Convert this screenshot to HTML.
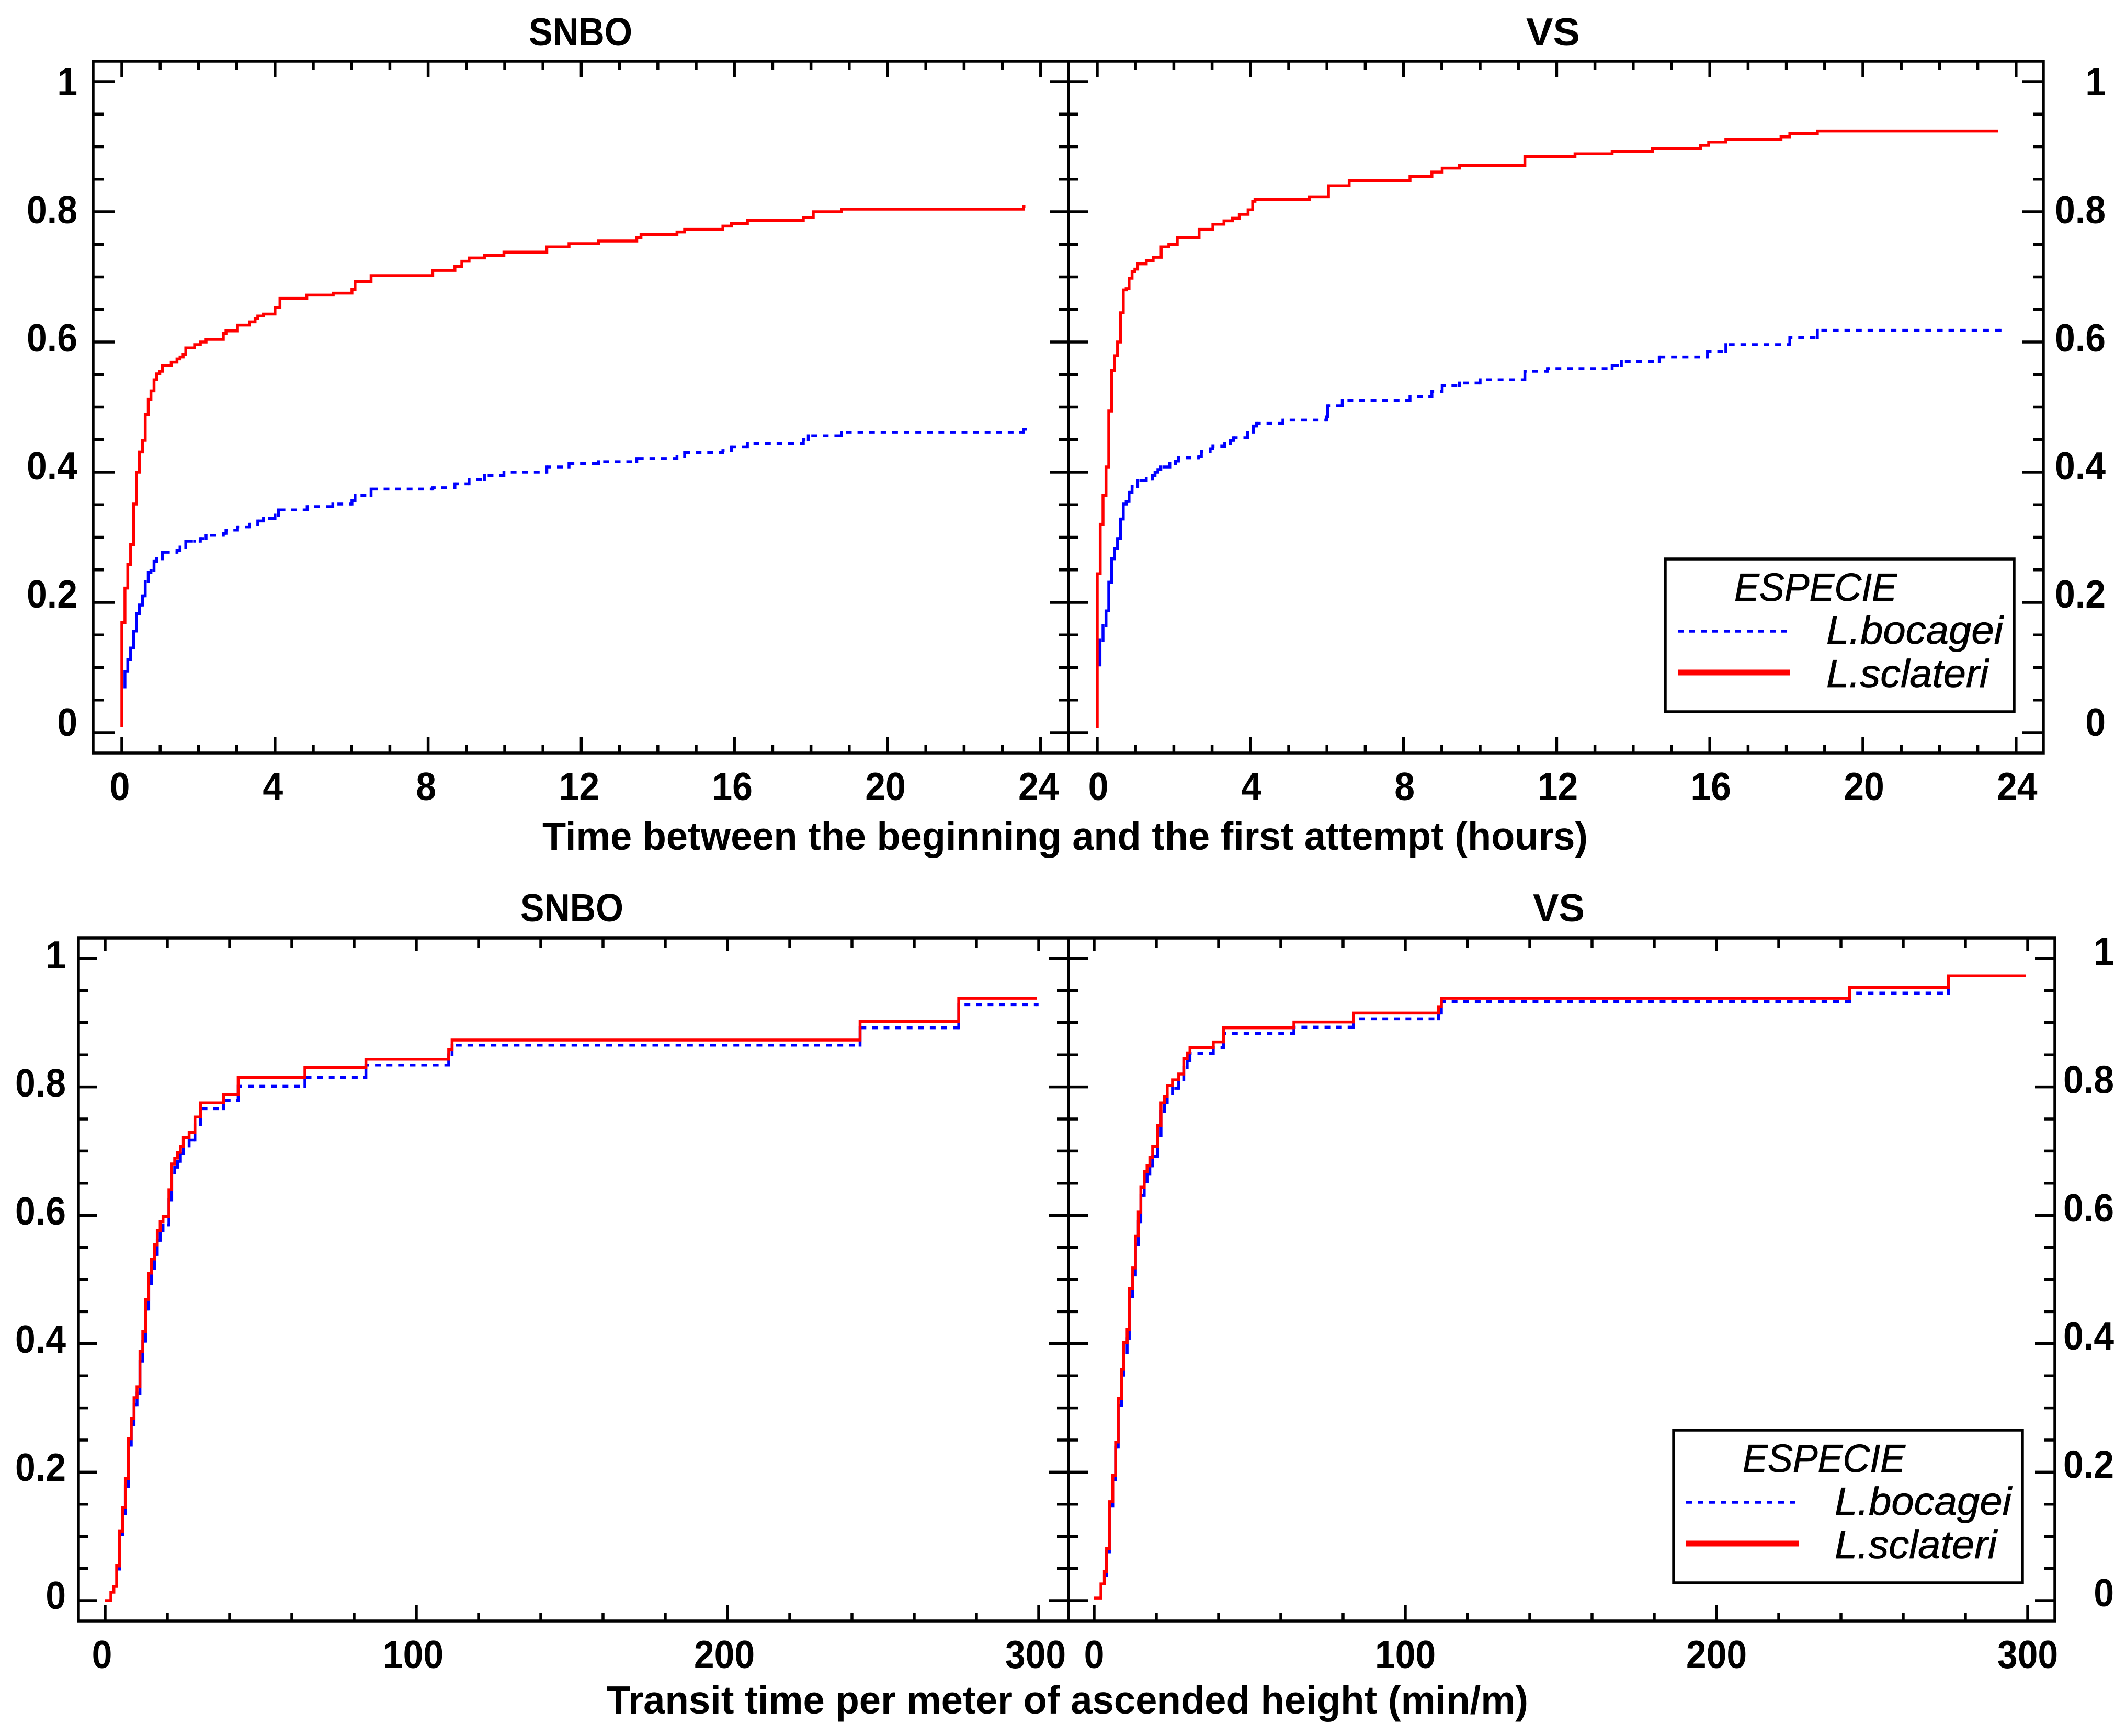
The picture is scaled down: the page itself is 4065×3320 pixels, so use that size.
<!DOCTYPE html>
<html lang="en">
<head>
<meta charset="utf-8">
<title>Cumulative curves by species</title>
<style>
html,body{margin:0;padding:0;background:#fff;}
svg{display:block;}
text{font-family:"Liberation Sans",Arial,sans-serif;fill:#000;}
.b{font-weight:bold;font-size:75px;}
.i{font-style:italic;font-size:75px;stroke:#000;stroke-width:0.8px;}
</style>
</head>
<body>
<svg id="chart" xmlns="http://www.w3.org/2000/svg" width="4065" height="3320" viewBox="0 0 4065 3320">
<rect x="0" y="0" width="4065" height="3320" fill="#fff"/>
<g id="marks"></g>

<rect x="178" y="117" width="3729" height="1323" fill="none" stroke="#000" stroke-width="5.5"/>
<line x1="2043" y1="117" x2="2043" y2="1440" stroke="#000" stroke-width="5.5"/>
<rect x="150" y="1794" width="3779" height="1306" fill="none" stroke="#000" stroke-width="5.5"/>
<line x1="2043" y1="1794" x2="2043" y2="3100" stroke="#000" stroke-width="5.5"/>

<text class="b" x="1011" y="87" textLength="198" lengthAdjust="spacingAndGlyphs">SNBO</text>
<text class="b" x="2918" y="87" textLength="103" lengthAdjust="spacingAndGlyphs">VS</text>
<text class="b" x="995" y="1762" textLength="197" lengthAdjust="spacingAndGlyphs">SNBO</text>
<text class="b" x="2931" y="1762" textLength="99" lengthAdjust="spacingAndGlyphs">VS</text>
<text class="b" x="1037" y="1625" textLength="1999" lengthAdjust="spacingAndGlyphs">Time between the beginning and the first attempt (hours)</text>
<text class="b" x="1160" y="3277" textLength="1762" lengthAdjust="spacingAndGlyphs">Transit time per meter of ascended height (min/m)</text>

<g>
<rect x="3184" y="1069" width="667" height="292" fill="#fff" stroke="#000" stroke-width="5.5"/>
<text class="i" x="3316" y="1149" textLength="311" lengthAdjust="spacingAndGlyphs">ESPECIE</text>
<line x1="3208" y1="1207" x2="3418" y2="1207" stroke="#0000ff" stroke-width="5.5" stroke-dasharray="11 11"/>
<text class="i" x="3492" y="1231" textLength="338" lengthAdjust="spacingAndGlyphs">L.bocagei</text>
<line x1="3208" y1="1286" x2="3423" y2="1286" stroke="#ff0000" stroke-width="11"/>
<text class="i" x="3492" y="1314" textLength="310" lengthAdjust="spacingAndGlyphs">L.sclateri</text>
</g>
<g>
<rect x="3200" y="2735" width="667" height="292" fill="#fff" stroke="#000" stroke-width="5.5"/>
<text class="i" x="3332" y="2815" textLength="311" lengthAdjust="spacingAndGlyphs">ESPECIE</text>
<line x1="3224" y1="2873" x2="3434" y2="2873" stroke="#0000ff" stroke-width="5.5" stroke-dasharray="11 11"/>
<text class="i" x="3508" y="2897" textLength="338" lengthAdjust="spacingAndGlyphs">L.bocagei</text>
<line x1="3224" y1="2952" x2="3439" y2="2952" stroke="#ff0000" stroke-width="11"/>
<text class="i" x="3508" y="2980" textLength="310" lengthAdjust="spacingAndGlyphs">L.sclateri</text>
</g>
</svg>
<script>
// ---------- tick labels ----------
var yTickLabels = ["0","0.2","0.4","0.6","0.8","1"];
var hourTickLabels = ["0","4","8","12","16","20","24"];
var transitTickLabels = ["0","100","200","300"];
var yMinorStep = 0.05;
var hourMinorStep = 1;
var transitMinorStep = 20;

// ---------- Top left: SNBO, hours ----------
var snboHoursSclateriX = [0,0,0.08,0.155,0.23,0.305,0.38,0.46,0.54,0.61,0.69,0.76,0.84,0.91,0.99,1.06,1.29,1.44,1.52,1.6,1.67,1.9,2.05,2.2,2.65,2.72,3.02,3.33,3.48,3.55,3.7,4.0,4.13,4.83,5.52,6.01,6.09,6.51,8.12,8.7,8.88,9.07,9.47,9.98,11.1,11.68,12.45,13.45,13.56,14.5,14.7,15.7,15.92,16.34,17.8,18.06,18.8,23.55,23.6];
var snboHoursSclateriY = [0.008,0.169,0.222,0.258,0.289,0.351,0.4,0.431,0.449,0.489,0.512,0.525,0.542,0.551,0.555,0.564,0.569,0.574,0.577,0.581,0.591,0.596,0.6,0.604,0.613,0.617,0.626,0.631,0.636,0.64,0.643,0.653,0.667,0.672,0.675,0.681,0.693,0.702,0.71,0.716,0.724,0.729,0.733,0.738,0.746,0.751,0.755,0.76,0.765,0.769,0.773,0.778,0.782,0.787,0.791,0.8,0.804,0.808,0.808];
var snboHoursBocageiX = [0.08,0.08,0.155,0.23,0.305,0.38,0.46,0.54,0.61,0.69,0.76,0.84,0.91,1.06,1.44,1.52,1.67,1.9,2.05,2.2,2.65,2.72,3.02,3.33,3.55,3.7,4.0,4.09,4.84,5.51,6.01,6.09,6.51,8.12,8.7,9.07,9.47,9.98,11.1,11.68,12.45,13.45,14.5,14.7,15.7,15.92,16.34,17.8,17.93,18.8,23.55,23.6];
var snboHoursBocageiY = [0.07,0.094,0.112,0.13,0.156,0.183,0.196,0.21,0.232,0.246,0.249,0.263,0.267,0.277,0.28,0.285,0.294,0.294,0.298,0.303,0.306,0.311,0.316,0.32,0.325,0.329,0.334,0.342,0.347,0.351,0.356,0.364,0.374,0.376,0.382,0.389,0.395,0.4,0.408,0.413,0.416,0.421,0.424,0.43,0.433,0.439,0.444,0.45,0.456,0.461,0.466,0.466];

// ---------- Top right: VS, hours ----------
var vsHoursSclateriX = [0,0,0.078,0.15,0.228,0.3,0.378,0.45,0.53,0.606,0.68,0.756,0.83,0.91,0.984,1.056,1.28,1.46,1.67,1.87,2.09,2.66,3.02,3.31,3.53,3.71,3.94,4.06,4.12,5.54,6.04,6.58,8.17,8.74,9.01,9.46,11.17,12.48,13.45,14.5,15.76,15.97,16.42,17.86,18.09,18.81,23.53];
var vsHoursSclateriY = [0.007,0.244,0.32,0.364,0.408,0.494,0.556,0.579,0.6,0.645,0.68,0.682,0.698,0.708,0.712,0.72,0.725,0.73,0.746,0.75,0.76,0.773,0.781,0.786,0.79,0.796,0.803,0.816,0.819,0.823,0.84,0.848,0.854,0.861,0.867,0.871,0.885,0.889,0.893,0.897,0.902,0.907,0.911,0.915,0.92,0.924,0.924];
var vsHoursBocageiX = [0.073,0.073,0.15,0.228,0.3,0.378,0.45,0.53,0.606,0.68,0.756,0.83,0.91,1.056,1.28,1.44,1.51,1.585,1.66,1.895,2.04,2.12,2.65,2.72,2.95,3.02,3.33,3.48,3.56,3.93,4.08,4.16,4.85,5.99,6.02,6.4,8.17,8.74,9.01,9.46,10.0,11.17,11.76,13.45,13.69,14.68,15.94,16.42,18.09,18.81,23.58];
var vsHoursBocageiY = [0.104,0.142,0.164,0.187,0.231,0.267,0.283,0.298,0.328,0.351,0.355,0.369,0.378,0.387,0.39,0.395,0.4,0.404,0.408,0.413,0.417,0.422,0.424,0.432,0.436,0.44,0.444,0.449,0.453,0.461,0.471,0.475,0.48,0.485,0.502,0.51,0.516,0.524,0.533,0.537,0.542,0.555,0.559,0.564,0.57,0.577,0.585,0.596,0.607,0.618,0.618];

// ---------- Bottom left: SNBO, transit ----------
var snboTransitSclateriX = [0,1.85,2.8,3.7,4.65,5.6,6.5,7.45,8.4,9.3,10.25,11.2,12.1,13.05,14,14.9,15.85,16.75,17.7,18.6,20.5,21.4,22.35,23.3,24.2,25.15,27,28.85,30.7,38.1,42.75,64.2,83.8,110.4,111.5,242.6,274.3,299.5];
var snboTransitSclateriY = [0,0.013,0.022,0.054,0.108,0.145,0.19,0.252,0.284,0.316,0.333,0.388,0.419,0.469,0.51,0.532,0.554,0.576,0.59,0.598,0.64,0.68,0.689,0.698,0.707,0.721,0.729,0.753,0.775,0.788,0.815,0.83,0.843,0.858,0.873,0.902,0.938,0.938];
var snboTransitBocageiX = [3.7,4.65,5.6,6.5,7.45,8.4,9.3,10.25,11.2,12.1,13.05,14,14.9,15.85,16.75,17.7,18.6,20.5,21.4,22.35,23.3,24.2,25.15,27,28.85,30.7,38.1,42.75,64.2,83.8,110.4,111.5,242.6,274.3,299.5];
var snboTransitBocageiY = [0.049,0.103,0.135,0.178,0.242,0.274,0.305,0.323,0.373,0.404,0.454,0.494,0.517,0.539,0.561,0.576,0.585,0.624,0.666,0.675,0.684,0.696,0.708,0.717,0.741,0.766,0.779,0.801,0.815,0.834,0.85,0.865,0.892,0.928,0.928];

// ---------- Bottom right: VS, transit ----------
var vsTransitSclateriX = [0,2.2,3.3,4,4.9,6,6.9,7.75,8.85,9.5,10.6,11.3,12.4,13.3,14.2,15,16.1,17,17.9,18.8,20.4,21.5,22.6,23.5,25.2,27.2,28.8,29.9,30.8,38.3,41.6,64.2,83.4,110.7,111.6,242.8,274.5,299.5];
var vsTransitSclateriY = [0.004,0.026,0.045,0.081,0.154,0.195,0.247,0.315,0.36,0.402,0.422,0.486,0.518,0.568,0.605,0.644,0.668,0.677,0.69,0.707,0.74,0.775,0.785,0.802,0.811,0.82,0.844,0.853,0.861,0.87,0.892,0.901,0.915,0.925,0.938,0.955,0.973,0.973];
var vsTransitBocageiX = [3.3,4,4.9,6,6.9,7.75,8.85,9.5,10.6,11.3,12.4,13.3,14.2,15,16.1,17,17.9,18.8,20.4,21.5,22.6,23.5,25.2,27.2,28.8,29.9,30.8,38.3,41.6,64.2,83.4,110.7,111.6,242.8,274.5];
var vsTransitBocageiY = [0.039,0.076,0.147,0.188,0.239,0.304,0.351,0.386,0.408,0.473,0.507,0.555,0.59,0.631,0.652,0.664,0.677,0.692,0.724,0.762,0.775,0.789,0.798,0.811,0.83,0.841,0.852,0.861,0.883,0.893,0.906,0.915,0.933,0.946,0.973];

var NS = "http://www.w3.org/2000/svg";
var marks = document.getElementById("marks");
var DASH_PERIOD = 22.1;
var DASH_ON = 11;

function xScale(panel, v) { return panel.x0 + panel.xk * v; }
function yScale(panel, v) { return panel.y0 - panel.yk * v; }

function addLine(x1, y1, x2, y2, name) {
  var el = document.createElementNS(NS, "line");
  el.setAttribute("x1", x1);
  el.setAttribute("y1", y1);
  el.setAttribute("x2", x2);
  el.setAttribute("y2", y2);
  el.setAttribute("stroke", "#000");
  el.setAttribute("stroke-width", "5.5");
  
  
  marks.appendChild(el);
}

function addText(str, x, y, anchor, name) {
  var el = document.createElementNS(NS, "text");
  el.textContent = str;
  el.setAttribute("class", "b");
  el.setAttribute("x", x);
  el.setAttribute("y", y);
  el.setAttribute("text-anchor", anchor);
  var w = 0;
  for (var i = 0; i < str.length; i++) { w += str.charAt(i) === "." ? 0.278 : 0.556; }
  el.setAttribute("textLength", (w * 75 * 0.93).toFixed(1));
  el.setAttribute("lengthAdjust", "spacingAndGlyphs");
  
  
  marks.appendChild(el);
}

function addSolidStep(panel, xs, ys, color, name) {
  var d = "M" + xScale(panel, xs[0]).toFixed(1) + " " + yScale(panel, ys[0]).toFixed(1);
  for (var i = 1; i < xs.length; i++) {
    d += "H" + xScale(panel, xs[i]).toFixed(1) + "V" + yScale(panel, ys[i]).toFixed(1);
  }
  var el = document.createElementNS(NS, "path");
  el.setAttribute("d", d);
  el.setAttribute("fill", "none");
  el.setAttribute("stroke", color);
  el.setAttribute("stroke-width", "5.5");
  el.setAttribute("stroke-linejoin", "miter");
  
  
  marks.appendChild(el);
}

// Risers are solid; horizontal runs are dashed on a fixed x-phase, as the source plot does.
function addDashedStep(panel, xs, ys, color, name) {
  var risers = "";
  var runs = "";
  for (var i = 1; i < xs.length; i++) {
    var xa = xScale(panel, xs[i - 1]);
    var xb = xScale(panel, xs[i]);
    var ya = yScale(panel, ys[i - 1]);
    var yb = yScale(panel, ys[i]);
    risers += "M" + xb.toFixed(1) + " " + ya.toFixed(1) + "V" + yb.toFixed(1);
    var k = Math.floor((xa - panel.dashPhase) / DASH_PERIOD);
    for (; panel.dashPhase + k * DASH_PERIOD < xb; k++) {
      var s = Math.max(xa, panel.dashPhase + k * DASH_PERIOD);
      var e = Math.min(xb, panel.dashPhase + k * DASH_PERIOD + DASH_ON);
      if (e > s) { runs += "M" + s.toFixed(1) + " " + ya.toFixed(1) + "H" + e.toFixed(1); }
    }
  }
  var r = document.createElementNS(NS, "path");
  r.setAttribute("d", risers);
  r.setAttribute("fill", "none");
  r.setAttribute("stroke", color);
  r.setAttribute("stroke-width", "5.5");
  r.setAttribute("stroke-linecap", "square");
  
  
  marks.appendChild(r);
  var h = document.createElementNS(NS, "path");
  h.setAttribute("d", runs);
  h.setAttribute("fill", "none");
  h.setAttribute("stroke", color);
  h.setAttribute("stroke-width", "5.5");
  
  
  marks.appendChild(h);
}

function drawPanel(panel) {
  var i, v, major;
  var yCount = Math.round(1 / yMinorStep);
  for (i = 0; i <= yCount; i++) {
    v = i * yMinorStep;
    major = i % 4 === 0;
    var yp = yScale(panel, v);
    addLine(panel.yA, yp, panel.yA + panel.yDirA * (major ? panel.yMajA : panel.yMinA), yp, panel.id + "-y-tick-left");
    addLine(panel.yB, yp, panel.yB + panel.yDirB * (major ? panel.yMajB : panel.yMinB), yp, panel.id + "-y-tick-right");
  }
  var xCount = Math.round(panel.xMax / panel.xMinor);
  for (i = 0; i <= xCount; i++) {
    v = i * panel.xMinor;
    major = i % panel.xEvery === 0;
    var xp = xScale(panel, v);
    addLine(xp, panel.top, xp, panel.top + (major ? panel.topMaj : panel.topMin), panel.id + "-x-tick-top");
    addLine(xp, panel.bottom, xp, panel.bottom - (major ? 30 : 16), panel.id + "-x-tick-bottom");
  }
  for (i = 0; i < panel.xLabels.length; i++) {
    addText(panel.xLabels[i], xScale(panel, parseFloat(panel.xLabels[i])) + panel.xLabelShift, panel.xLabelY, "middle", panel.id + "-x-tick-label");
  }
  for (i = 0; i < yTickLabels.length; i++) {
    addText(yTickLabels[i], panel.yLabelX, panel.yLabel0 - panel.yLabelK * parseFloat(yTickLabels[i]), "end", panel.id + "-y-tick-label");
  }
  addDashedStep(panel, panel.bx, panel.by, "#0000ff", panel.id + "-series-bocagei");
  addSolidStep(panel, panel.sx, panel.sy, "#ff0000", panel.id + "-series-sclateri");
}

drawPanel({id:"top-left-snbo", x0:233, xk:73.2, xMax:24, xMinor:hourMinorStep, xEvery:4, xLabels:hourTickLabels, xLabelShift:-4, xLabelY:1530,
  y0:1401, yk:1245, top:117, bottom:1440, topMaj:30, topMin:17, yA:178, yDirA:1, yMajA:41, yMinA:20, yB:2043, yDirB:-1, yMajB:35, yMinB:18, dashPhase:556.7,
  yLabelX:148, yLabel0:1407, yLabelK:1225, sx:snboHoursSclateriX, sy:snboHoursSclateriY, bx:snboHoursBocageiX, by:snboHoursBocageiY});
drawPanel({id:"top-right-vs", x0:2098, xk:73.2, xMax:24, xMinor:hourMinorStep, xEvery:4, xLabels:hourTickLabels, xLabelShift:2, xLabelY:1530,
  y0:1401, yk:1245, top:117, bottom:1440, topMaj:30, topMin:17, yA:2043, yDirA:1, yMajA:37, yMinA:19, yB:3907, yDirB:-1, yMajB:40, yMinB:19, dashPhase:2421.7,
  yLabelX:4026, yLabel0:1407, yLabelK:1225, sx:vsHoursSclateriX, sy:vsHoursSclateriY, bx:vsHoursBocageiX, by:vsHoursBocageiY});
drawPanel({id:"bottom-left-snbo", x0:201, xk:5.95, xMax:300, xMinor:transitMinorStep, xEvery:5, xLabels:transitTickLabels, xLabelShift:-6, xLabelY:3190,
  y0:3061, yk:1228, top:1794, bottom:3100, topMaj:25, topMin:19, yA:150, yDirA:1, yMajA:36, yMinA:19, yB:2043, yDirB:-1, yMajB:38, yMinB:22, dashPhase:474,
  yLabelX:126, yLabel0:3077, yLabelK:1225, sx:snboTransitSclateriX, sy:snboTransitSclateriY, bx:snboTransitBocageiX, by:snboTransitBocageiY});
drawPanel({id:"bottom-right-vs", x0:2092, xk:5.95, xMax:300, xMinor:transitMinorStep, xEvery:5, xLabels:transitTickLabels, xLabelShift:0, xLabelY:3190,
  y0:3061, yk:1228, top:1794, bottom:3100, topMaj:25, topMin:19, yA:2043, yDirA:1, yMajA:37, yMinA:19, yB:3929, yDirB:-1, yMajB:38, yMinB:20, dashPhase:2908.3,
  yLabelX:4042, yLabel0:3072, yLabelK:1227, sx:vsTransitSclateriX, sy:vsTransitSclateriY, bx:vsTransitBocageiX, by:vsTransitBocageiY});
</script>
</body>
</html>
